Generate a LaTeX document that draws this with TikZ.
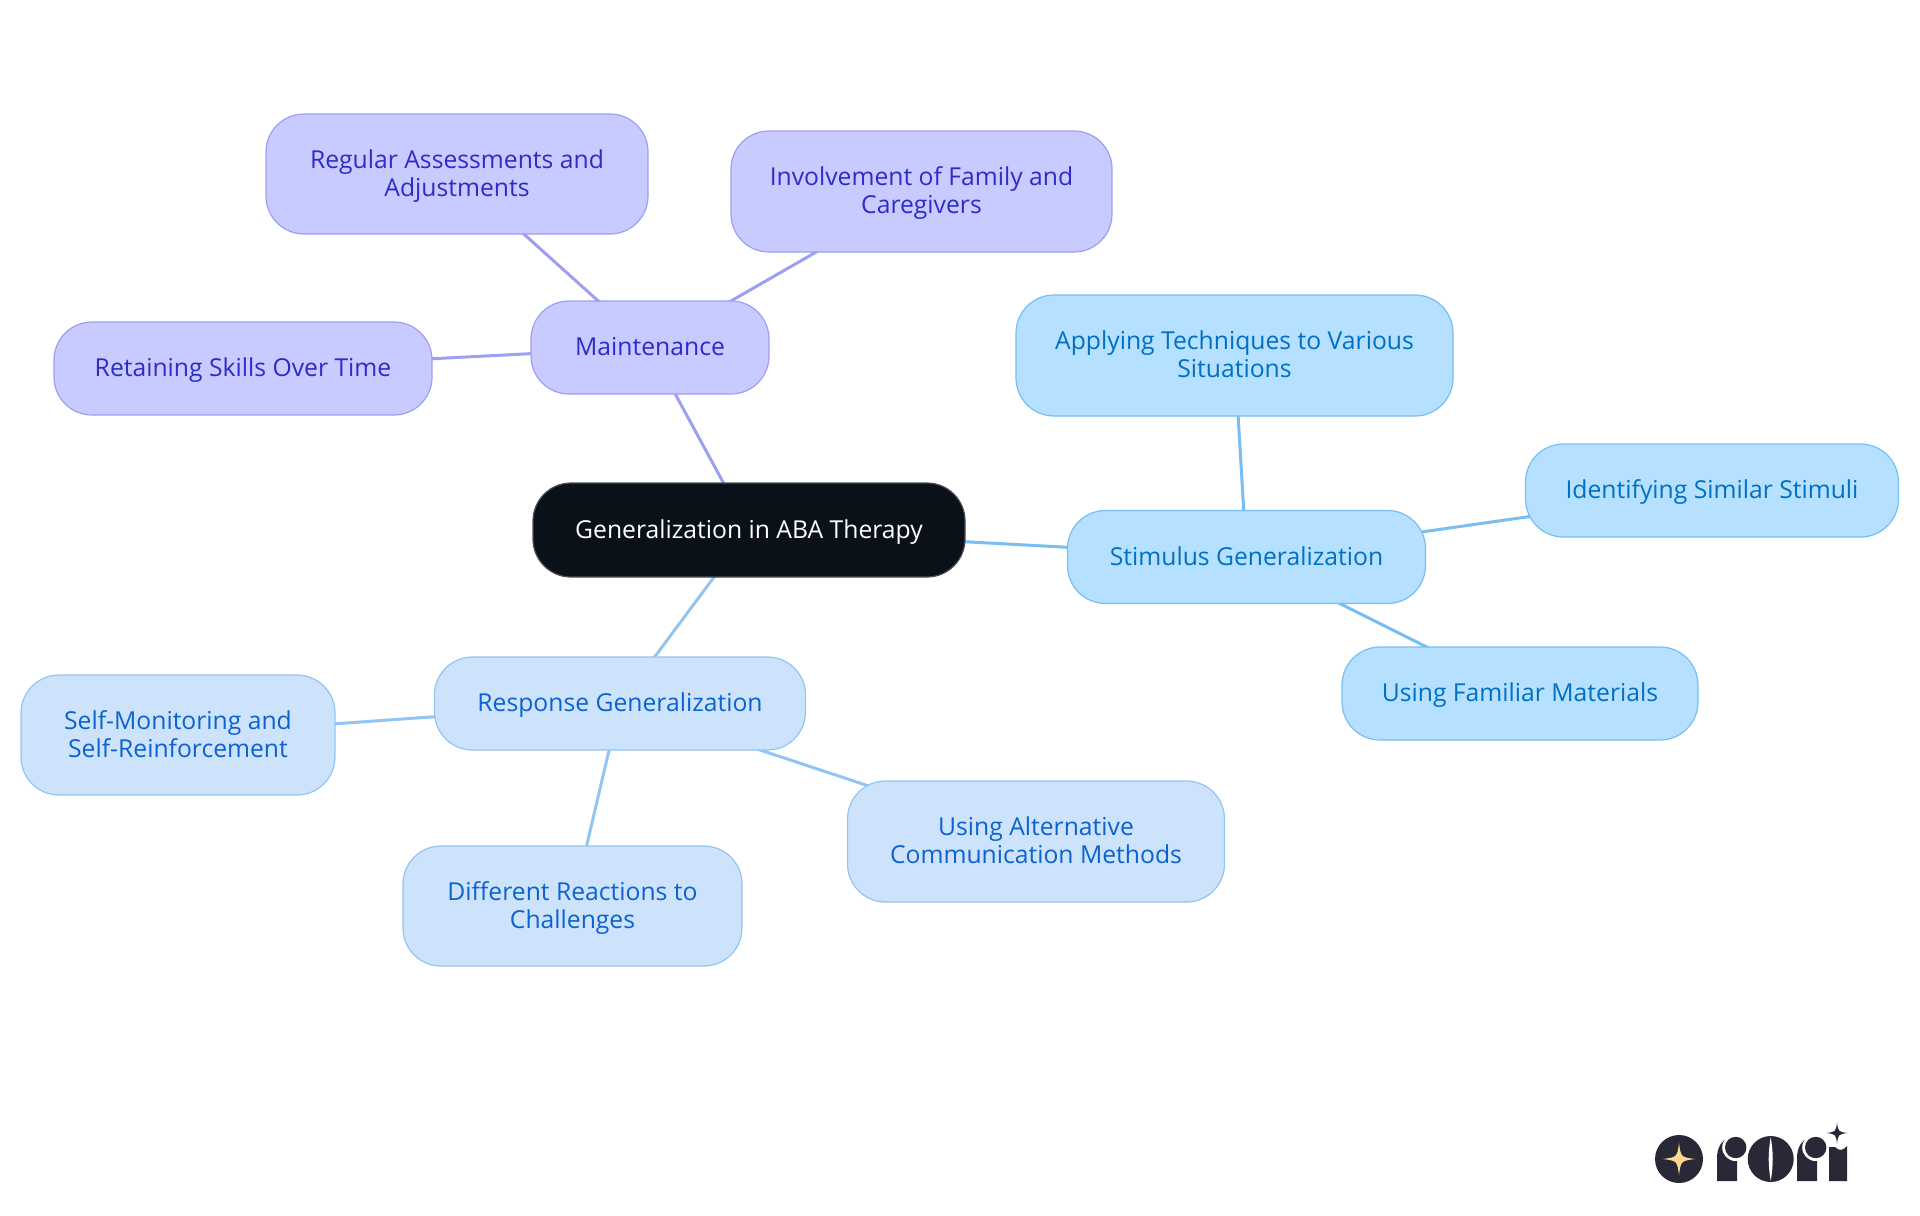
\documentclass[tikz,border=0pt]{standalone}
\usepackage{fontspec}
\setmainfont{Open Sans}
\usetikzlibrary{backgrounds}
\definecolor{rootfill}{HTML}{0B1119}
\definecolor{rootline}{HTML}{4A4E54}
\definecolor{mainfill}{HTML}{C8CBFF}
\definecolor{mainline}{HTML}{9C9FF2}
\definecolor{maintext}{HTML}{2C2CCB}
\definecolor{stimfill}{HTML}{B5E0FF}
\definecolor{stimline}{HTML}{79BEF0}
\definecolor{stimtext}{HTML}{0070C4}
\definecolor{respfill}{HTML}{CDE3FC}
\definecolor{respline}{HTML}{94C4F2}
\definecolor{resptext}{HTML}{0B62D0}
\definecolor{logodark}{HTML}{292837}
\definecolor{logostar}{HTML}{FBD88C}
\begin{document}
\begin{tikzpicture}[x = .5pt, y = -.5pt]
	\tikzstyle{every node} = [font = \fontsize{12.35}{14}\selectfont, align = center, inner sep = 0pt, text height = 10.1pt, text depth = 1.9pt]
	\tikzstyle{pill} = [draw, rectangle, rounded corners = 19pt, line width = .6pt]
	\tikzstyle{twolines} = [text height = 24.1pt]
	\tikzstyle{rootpill} = [pill, fill = rootfill, draw = rootline, text = white]
	\tikzstyle{mainpill} = [pill, fill = mainfill, draw = mainline, text = maintext]
	\tikzstyle{stimpill} = [pill, fill = stimfill, draw = stimline, text = stimtext]
	\tikzstyle{resppill} = [pill, fill = respfill, draw = respline, text = resptext]
	\tikzstyle{branch} = [line width = 1.5pt]
	\useasboundingbox (0,0) rectangle (1920,1215);

	\node [rootpill, minimum width = 216pt, minimum height = 47pt] (root) at (749,530) {Generalization in ABA Therapy};

	\node [mainpill, minimum width = 119pt, minimum height = 46.5pt] (maint) at (650,347.5) {Maintenance};
	\node [mainpill, twolines, minimum width = 191pt, minimum height = 60pt] (regular) at (457,174) {Regular Assessments and\\Adjustments};
	\node [mainpill, twolines, minimum width = 190.5pt, minimum height = 60.5pt] (family) at (921.5,191.5) {Involvement of Family and\\Caregivers};
	\node [mainpill, minimum width = 189pt, minimum height = 46.5pt] (retain) at (243,368.5) {Retaining Skills Over Time};

	\node [stimpill, minimum width = 179pt, minimum height = 46.5pt] (stim) at (1246.5,557) {Stimulus Generalization};
	\node [stimpill, twolines, minimum width = 218.5pt, minimum height = 60.5pt] (apply) at (1234.5,355.5) {Applying Techniques to Various\\Situations};
	\node [stimpill, minimum width = 186.5pt, minimum height = 46.5pt] (similar) at (1712,490.5) {Identifying Similar Stimuli};
	\node [stimpill, minimum width = 178pt, minimum height = 46.5pt] (familiar) at (1520,693.5) {Using Familiar Materials};

	\node [resppill, minimum width = 185.5pt, minimum height = 46.5pt] (resp) at (620,703.5) {Response Generalization};
	\node [resppill, twolines, minimum width = 157pt, minimum height = 60pt] (self) at (178,735) {Self-Monitoring and\\Self-Reinforcement};
	\node [resppill, twolines, minimum width = 169.5pt, minimum height = 60pt] (react) at (572.5,906) {Different Reactions to\\Challenges};
	\node [resppill, twolines, minimum width = 188.5pt, minimum height = 60.5pt] (altcomm) at (1036,841.5) {Using Alternative\\Communication Methods};

	\begin{scope}[on background layer]
		\foreach \a/\b in {root/maint, maint/regular, maint/family, maint/retain}
			\draw [branch, mainline] (\a.center) -- (\b.center);
		\foreach \a/\b in {root/stim, stim/apply, stim/similar, stim/familiar}
			\draw [branch, stimline] (\a.center) -- (\b.center);
		\foreach \a/\b in {root/resp, resp/self, resp/react, resp/altcomm}
			\draw [branch, respline] (\a.center) -- (\b.center);
	\end{scope}

	%logo
	\fill [logodark] (1679,1159) circle (24);
	\fill [logodark] (1770.7,1159) circle (23);
	\fill [white] (1770.7,1137) .. controls (1768,1154) and (1768,1164) .. (1770.7,1181) .. controls (1773.4,1164) and (1773.4,1154) .. cycle;
	\foreach \x in {1717,1797}
	{
		\fill [logodark] (\x,1181) -- (\x,1158) .. controls (\x,1147) and (\x+5,1139) .. (\x+14,1137) -- (\x+20,1150) -- (\x+20,1181) -- cycle;
		\fill [white] (\x+18.7,1147.5) circle (13.5);
		\fill [logodark] (\x+18.7,1147.5) circle (10.7);
	}
	\fill [logodark] (1829,1181) -- (1829,1147) -- (1835,1147) .. controls (1839,1151) and (1843,1151) .. (1847,1146) -- (1847,1181) -- cycle;
	\foreach \x/\y/\r/\c in {1679/1159/16/logostar, 1837/1133/10.5/logodark}
	{
		\fill [\c] (\x,\y-\r) .. controls (\x+.12*\r,\y-.12*\r) .. (\x+\r,\y) .. controls (\x+.12*\r,\y+.12*\r) .. (\x,\y+\r) .. controls (\x-.12*\r,\y+.12*\r) .. (\x-\r,\y) .. controls (\x-.12*\r,\y-.12*\r) .. cycle;
	}
\end{tikzpicture}
\end{document}
